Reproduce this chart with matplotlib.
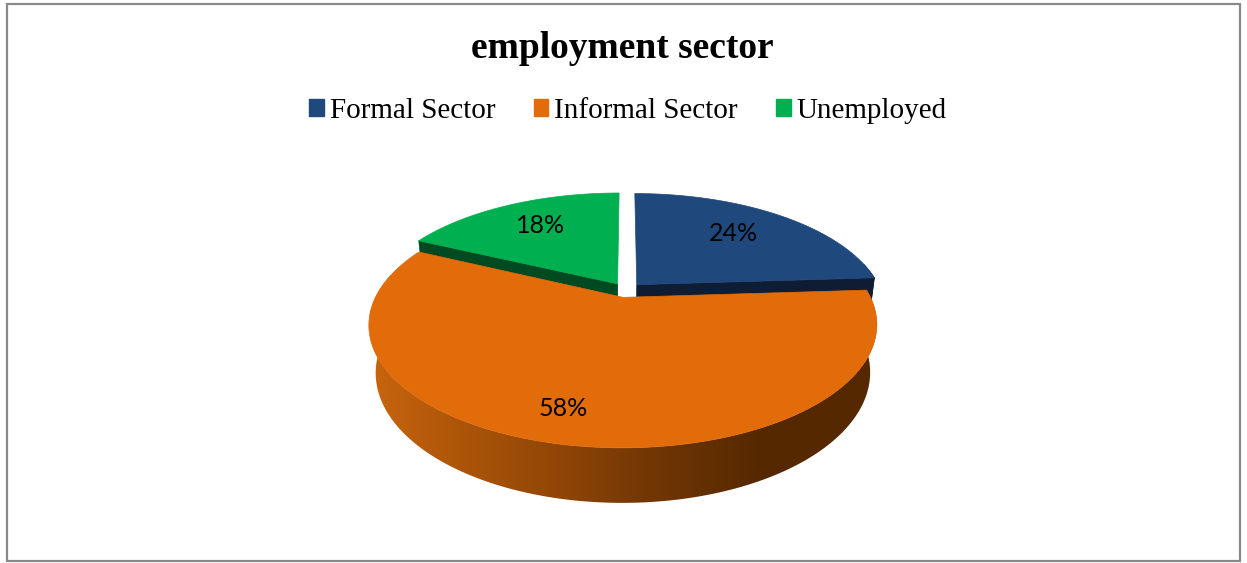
import numpy as np
import matplotlib
matplotlib.use("Agg")
import matplotlib.pyplot as plt
from matplotlib.patches import Polygon, Patch, Rectangle
from matplotlib.colors import LinearSegmentedColormap

# Data
sectors = ["Formal Sector", "Informal Sector", "Unemployed"]
shares = [24, 58, 18]
top_colors = ["#1F497D", "#E26B0A", "#00B050"]
side_colors = ["#0E1D33", "#5A2A00", "#004A22"]
title = "employment sector"

W, H = 1247, 563
fig = plt.figure(figsize=(W / 100, H / 100), dpi=100)
ax = fig.add_axes([0, 0, 1, 1])
ax.set_xlim(0, W)
ax.set_ylim(H, 0)
ax.axis("off")

# 3D pie camera setup (pixel space)
cx, cy = 626, 290
S = 244.0
alpha = np.radians(27.7)
D = 4.0
depth = 0.22
explode = 0.065
ca, sa = np.cos(alpha), np.sin(alpha)


def proj(X, Y, Z):
    X, Y, Z = np.asarray(X, float), np.asarray(Y, float), np.asarray(Z, float)
    yp = Y * ca + Z * sa
    zp = -Y * sa + Z * ca
    f = D / (D + zp)
    return np.column_stack([cx + S * X * f, cy - S * yp * f])


def arc(t, ox, oz, y):
    t = np.radians(t)
    return proj(ox + np.cos(t), np.full(len(t), y), oz + np.sin(t))


# slice angles: start at 12 o'clock, go clockwise
fracs = np.array(shares) / sum(shares)
ends = 90 - 360 * np.concatenate([[0], np.cumsum(fracs)[:-1]])
starts = ends - 360 * fracs

slices = []
for i in range(len(shares)):
    t0, t1 = starts[i], ends[i]
    m = np.radians((t0 + t1) / 2)
    ox, oz = explode * np.cos(m), explode * np.sin(m)
    slices.append((i, t0, t1, ox, oz))

# far slices first
slices.sort(key=lambda s: -s[4])

# gradient for the front wall of the big slice
wall_cmap = LinearSegmentedColormap.from_list(
    "wall",
    [(0.0, "#C8650E"), (0.12, "#B55A0A"), (0.41, "#8A4206"),
     (0.53, "#743805"), (0.77, "#552800"), (1.0, "#552800")])

for i, t0, t1, ox, oz in slices:
    apex_top = proj(ox, 0, oz)[0]
    apex_bot = proj(ox, -depth, oz)[0]
    t = np.linspace(t0, t1, 240)
    top_arc = arc(t, ox, oz, 0)

    # outer curved wall, only the part turned towards the viewer
    tw = t[np.sin(np.radians(t)) < 0.2]
    if len(tw) > 1:
        wall_pts = np.vstack([arc(tw, ox, oz, 0), arc(tw, ox, oz, -depth)[::-1]])
        wall = Polygon(wall_pts, closed=True)
        if i == 1:
            wall.set_facecolor("none")
            wall.set_edgecolor("none")
            ax.add_patch(wall)
            grad = np.linspace(0, 1, 256).reshape(1, -1)
            im = ax.imshow(grad, cmap=wall_cmap, aspect="auto",
                           extent=(cx - S * 1.05, cx + S * 1.05, H, 0),
                           interpolation="bilinear")
            im.set_clip_path(wall)
        else:
            wall.set_facecolor(side_colors[i])
            wall.set_edgecolor(side_colors[i])
            wall.set_linewidth(0.5)
            ax.add_patch(wall)

    # radial faces facing the viewer
    for tt, visible in ((t0, np.cos(np.radians(t0)) > 1e-6),
                        (t1, np.cos(np.radians(t1)) < -1e-6)):
        if not visible:
            continue
        tr = np.radians(tt)
        rim_top = proj(ox + np.cos(tr), 0, oz + np.sin(tr))[0]
        rim_bot = proj(ox + np.cos(tr), -depth, oz + np.sin(tr))[0]
        ax.add_patch(Polygon([apex_top, rim_top, rim_bot, apex_bot], closed=True,
                             facecolor=side_colors[i], edgecolor=side_colors[i],
                             linewidth=0.5))

    # top face
    ax.add_patch(Polygon(np.vstack([apex_top, top_arc]), closed=True,
                         facecolor=top_colors[i], edgecolor=top_colors[i],
                         linewidth=0.5))

# percentage labels
label_r = [0.7, 0.8, 0.7]
label_dx = [-6, -14, 2]
for i, t0, t1, ox, oz in slices:
    m = np.radians((t0 + t1) / 2)
    px, py = proj(ox + label_r[i] * np.cos(m), 0, oz + label_r[i] * np.sin(m))[0]
    ax.text(px + label_dx[i], py, f"{shares[i]}%", ha="center", va="center",
            fontsize=18, family="Lato", color="black")

ax.set_xlim(0, W)
ax.set_ylim(H, 0)

# title and legend
ax.text(622, 58, title, ha="center", va="baseline", fontsize=27,
        fontweight="bold", family="Liberation Serif")
handles = [Patch(facecolor=c, edgecolor=c, label=s) for c, s in zip(top_colors, sectors)]
ax.legend(handles=handles, loc="center", bbox_to_anchor=(628 / W, 1 - 111 / H),
          ncol=3, frameon=False, prop={"family": "Liberation Serif", "size": 21},
          handlelength=0.51, handleheight=0.51, handletextpad=0.2,
          columnspacing=1.3, borderaxespad=0)

# chart border
ax.add_patch(Rectangle((7, 4), 1233, 557, fill=False, edgecolor="#898989",
                       linewidth=1.6))

fig.savefig("out.png", dpi=100)
